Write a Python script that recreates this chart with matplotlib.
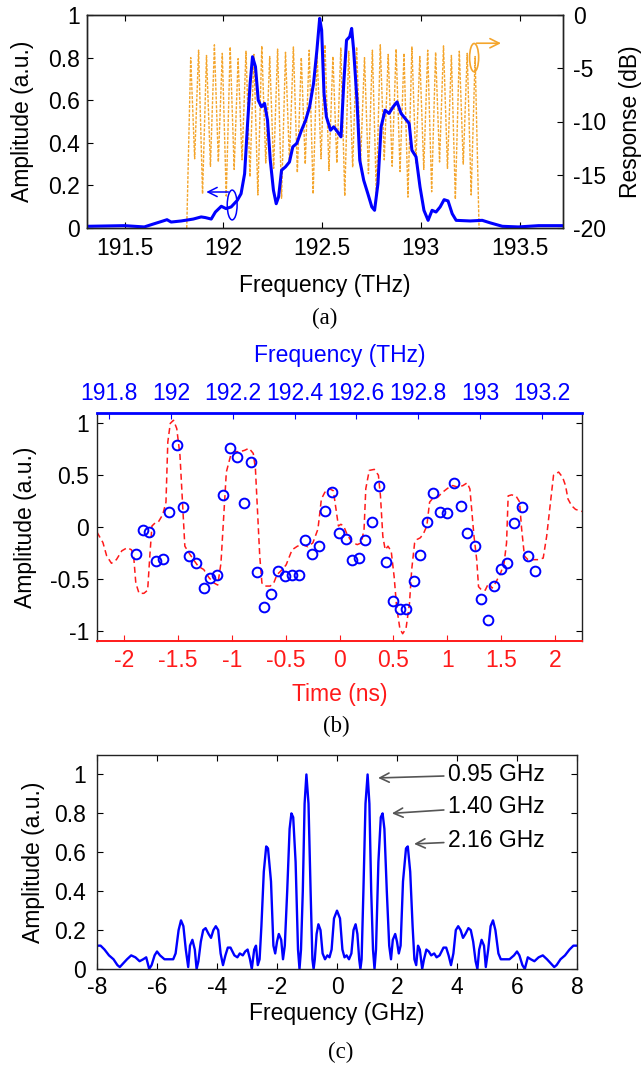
import matplotlib
matplotlib.use("Agg")
import matplotlib.pyplot as plt
from matplotlib.patches import Ellipse

plt.rcParams['font.family'] = ['Liberation Sans', 'DejaVu Sans']
plt.rcParams['font.size'] = 16.5
plt.rcParams['xtick.direction'] = 'in'
plt.rcParams['ytick.direction'] = 'in'
plt.rcParams['xtick.major.size'] = 4
plt.rcParams['ytick.major.size'] = 4
plt.rcParams['axes.linewidth'] = 1.0
plt.rcParams['axes.edgecolor'] = '#222222'

# ---- (a) optical spectrum + filter response ----
spec_f = [191.31, 191.50, 191.60, 191.64, 191.695, 191.715, 191.736, 191.787, 191.848,
          191.888, 191.909, 191.939, 191.96, 191.99, 192.014, 192.04, 192.071, 192.09,
          192.108, 192.122, 192.136, 192.148, 192.163, 192.177, 192.193, 192.209,
          192.224, 192.238, 192.254, 192.268, 192.28, 192.295, 192.315, 192.335,
          192.352, 192.372, 192.396, 192.417, 192.437, 192.457, 192.474, 192.488,
          192.498, 192.51, 192.522, 192.543, 192.559, 192.579, 192.596, 192.61,
          192.624, 192.64, 192.65, 192.66, 192.677, 192.691, 192.711, 192.732,
          192.752, 192.766, 192.783, 192.799, 192.819, 192.839, 192.86, 192.88,
          192.9, 192.921, 192.941, 192.955, 192.976, 192.996, 193.016, 193.037,
          193.057, 193.077, 193.098, 193.118, 193.138, 193.159, 193.179, 193.25,
          193.311, 193.352, 193.413, 193.494, 193.596, 193.72]
spec_amp = [0.008, 0.011, 0.005, 0.017, 0.033, 0.039, 0.028, 0.033, 0.042,
            0.052, 0.049, 0.042, 0.075, 0.102, 0.091, 0.099, 0.13, 0.161,
            0.255, 0.475, 0.679, 0.804, 0.757, 0.6, 0.569, 0.585,
            0.506, 0.318, 0.177, 0.114, 0.146, 0.271, 0.287, 0.31,
            0.381, 0.397, 0.459, 0.506, 0.569, 0.679, 0.835, 0.984,
            0.929, 0.632, 0.522, 0.459, 0.475, 0.451, 0.428, 0.679,
            0.882, 0.898, 0.937, 0.835, 0.6, 0.318, 0.224, 0.161,
            0.099, 0.083, 0.208, 0.475, 0.553, 0.538, 0.569, 0.592,
            0.538, 0.514, 0.491, 0.365, 0.334, 0.193, 0.083, 0.036,
            0.083, 0.075, 0.099, 0.133, 0.127, 0.067, 0.036, 0.033,
            0.036, 0.024, 0.008, 0.005, 0.011, 0.011]

comb_peak_f = [191.835, 191.875, 191.915, 191.955, 191.995, 192.035, 192.075, 192.115,
               192.155, 192.195, 192.235, 192.275, 192.315, 192.355, 192.395, 192.435,
               192.475, 192.515, 192.555, 192.595, 192.635, 192.675, 192.715, 192.755,
               192.795, 192.835, 192.875, 192.915, 192.955, 192.995, 193.035, 193.075,
               193.115, 193.155, 193.195, 193.235, 193.275]
comb_peak_db = [-4.0, -3.3, -3.8, -2.8, -3.6, -3.0, -4.1, -3.4, -3.7, -2.9, -3.9, -3.2,
                -3.5, -3.0, -4.0, -3.3, -3.6, -2.8, -3.9, -3.1, -3.4, -3.0, -4.0, -3.3,
                -2.8, -3.7, -3.2, -3.6, -3.0, -3.9, -3.3, -3.5, -2.9, -3.8, -3.4, -3.6,
                -3.9]
comb_dip_f = [191.855, 191.895, 191.935, 191.975, 192.015, 192.055, 192.095, 192.135,
              192.175, 192.215, 192.255, 192.295, 192.335, 192.375, 192.415, 192.455,
              192.495, 192.535, 192.575, 192.615, 192.655, 192.695, 192.735, 192.775,
              192.815, 192.855, 192.895, 192.935, 192.975, 193.015, 193.055, 193.095,
              193.135, 193.175, 193.215, 193.255]
comb_dip_db = [-13.5, -16.8, -14.2, -13.8, -17.0, -14.5, -13.6, -15.2, -16.9, -13.9, -14.4,
               -17.2, -13.7, -14.8, -14.0, -16.8, -13.5, -14.6, -13.9, -17.0, -14.3, -13.8,
               -14.9, -16.9, -13.6, -14.2, -14.7, -17.1, -13.9, -14.5, -16.6, -13.8, -14.4,
               -17.3, -14.0, -16.9]

# ---- (b) recovered waveform (time) and sampled points ----
wave_t = [-2.25, -2.195, -2.16, -2.116, -2.07, -2.02, -1.97, -1.93, -1.91, -1.89, -1.86,
          -1.815, -1.78, -1.76, -1.74, -1.71, -1.68, -1.64, -1.61, -1.593, -1.57, -1.54,
          -1.51, -1.48, -1.455, -1.435, -1.40, -1.355, -1.31, -1.26, -1.21, -1.165, -1.13,
          -1.10, -1.07, -1.05, -1.01, -0.975, -0.93, -0.88, -0.84, -0.80, -0.78, -0.76,
          -0.74, -0.72, -0.69, -0.643, -0.61, -0.58, -0.53, -0.495, -0.44, -0.39, -0.34,
          -0.295, -0.247, -0.2, -0.168, -0.136, -0.095, -0.057, -0.032, -0.01, 0.013,
          0.038, 0.07, 0.117, 0.165, 0.203, 0.228, 0.244, 0.276, 0.323, 0.361, 0.38,
          0.402, 0.424, 0.45, 0.48, 0.507, 0.53, 0.56, 0.586, 0.617, 0.649, 0.67, 0.697,
          0.72, 0.75, 0.78, 0.81, 0.836, 0.86, 0.91, 0.956, 1.004, 1.05, 1.1, 1.146,
          1.184, 1.21, 1.226, 1.248, 1.273, 1.29, 1.32, 1.352, 1.384, 1.416, 1.447,
          1.495, 1.527, 1.55, 1.565, 1.597, 1.637, 1.67, 1.69, 1.716, 1.748, 1.795,
          1.843, 1.89, 1.922, 1.954, 1.986, 2.033, 2.07, 2.097, 2.12, 2.154, 2.19, 2.25]
wave_amp = [-0.05, -0.15, -0.28, -0.35, -0.315, -0.23, -0.2, -0.22, -0.28, -0.54, -0.64,
            -0.64, -0.61, -0.28, 0.01, 0.04, 0.05, 0.12, 0.24, 0.82, 1.0, 1.03,
            0.95, 0.69, 0.2, -0.185, -0.245, -0.315, -0.38, -0.41, -0.49, -0.54, -0.56,
            -0.35, 0.17, 0.53, 0.69, 0.73, 0.725, 0.74, 0.76, 0.71, 0.56, 0.14,
            -0.28, -0.54, -0.57, -0.57, -0.54, -0.46, -0.41, -0.365, -0.22, -0.185, -0.17,
            -0.19, -0.153, -0.02, 0.27, 0.335, 0.37, 0.35, 0.17, 0.01, 0.026,
            0.01, -0.07, -0.15, -0.17, -0.153, -0.02, 0.37, 0.546, 0.556, 0.5, 0.3,
            -0.09, -0.22, -0.185, -0.235, -0.48, -0.77, -0.98, -1.03, -0.98, -0.74, -0.41, -0.153,
            -0.12, -0.104, -0.062, 0.01, 0.24, 0.27, 0.286, 0.335, 0.374, 0.4, 0.384, 0.4,
            0.426, 0.367, 0.17, -0.09, -0.315, -0.576, -0.61, -0.61, -0.54, -0.59, -0.54,
            -0.445, -0.35, -0.153, 0.3, 0.31, 0.3, 0.244, -0.02, -0.28, -0.315, -0.315,
            -0.315, -0.3, -0.09, 0.205, 0.5, 0.53, 0.48, 0.4, 0.27, 0.205, 0.17, 0.15]

samp_t = [-1.884, -1.824, -1.767, -1.704, -1.64, -1.583, -1.508, -1.45, -1.394, -1.33,
          -1.26, -1.203, -1.134, -1.08, -1.013, -0.953, -0.887, -0.823, -0.763, -0.703,
          -0.633, -0.57, -0.507, -0.443, -0.38, -0.317, -0.257, -0.19, -0.133, -0.07,
          -0.006, 0.057, 0.12, 0.184, 0.24, 0.304, 0.364, 0.431, 0.497, 0.557,
          0.621, 0.687, 0.747, 0.811, 0.871, 0.934, 0.994, 1.061, 1.124, 1.184,
          1.254, 1.311, 1.374, 1.438, 1.501, 1.558, 1.622, 1.691, 1.748, 1.815]
samp_amp = [-0.26, -0.03, -0.05, -0.325, -0.305, 0.146, 0.793, 0.195, -0.283, -0.348,
            -0.585, -0.49, -0.462, 0.312, 0.764, 0.68, 0.231, 0.624, -0.436, -0.771,
            -0.644, -0.42, -0.468, -0.459, -0.459, -0.13, -0.26, -0.179, 0.156, 0.338,
            -0.062, -0.12, -0.319, -0.3, -0.127, 0.052, 0.4, -0.338, -0.712, -0.793,
            -0.793, -0.517, -0.273, 0.052, 0.332, 0.146, 0.137, 0.429, 0.205, -0.062,
            -0.179, -0.699, -0.9, -0.566, -0.407, -0.351, 0.042, 0.195, -0.283, -0.42]

# ---- (c) RF spectrum ----
rf_f = [-8.00, -7.88, -7.75, -7.60, -7.45, -7.32, -7.24, -7.12, -7.00, -6.86, -6.72,
        -6.58, -6.46, -6.36, -6.26, -6.18, -6.08, -6.00, -5.90, -5.75, -5.60, -5.46,
        -5.38, -5.28, -5.20, -5.12, -5.04, -4.96, -4.90, -4.82, -4.74, -4.68, -4.62,
        -4.54, -4.46, -4.38, -4.28, -4.20, -4.12, -4.04, -3.96, -3.88, -3.80, -3.72,
        -3.64, -3.55, -3.42, -3.32, -3.24, -3.14, -3.06, -2.98, -2.90, -2.84, -2.76,
        -2.70, -2.64, -2.58, -2.52, -2.44, -2.36, -2.30, -2.20, -2.12, -2.06, -2.00,
        -1.94, -1.86, -1.80, -1.74, -1.66, -1.58, -1.52, -1.46, -1.38, -1.30, -1.25,
        -1.20, -1.14, -1.08, -1.02, -0.95, -0.88, -0.82, -0.78, -0.74, -0.68, -0.62,
        -0.55, -0.48, -0.40, -0.32, -0.25, -0.18, -0.10,
        0.00, 0.10, 0.18, 0.25, 0.32, 0.40, 0.48, 0.55, 0.62, 0.68, 0.74, 0.78, 0.82,
        0.88, 0.95, 1.02, 1.08, 1.14, 1.20, 1.25, 1.30, 1.38, 1.46, 1.52, 1.58, 1.66,
        1.74, 1.80, 1.86, 1.94, 2.00, 2.06, 2.12, 2.20, 2.30, 2.36, 2.44, 2.52, 2.58,
        2.64, 2.70, 2.76, 2.84, 2.90, 2.98, 3.06, 3.14, 3.24, 3.32, 3.42, 3.55, 3.64,
        3.72, 3.80, 3.88, 3.96, 4.04, 4.12, 4.20, 4.28, 4.38, 4.46, 4.54, 4.62, 4.68,
        4.74, 4.82, 4.90, 4.96, 5.04, 5.12, 5.20, 5.28, 5.38, 5.46, 5.60, 5.75, 5.90,
        6.00, 6.08, 6.18, 6.26, 6.36, 6.46, 6.58, 6.72, 6.86, 7.00, 7.12, 7.24, 7.32,
        7.45, 7.60, 7.75, 7.88, 8.00]
rf_amp = [0.12, 0.12, 0.10, 0.07, 0.05, 0.02, 0.01, 0.03, 0.05, 0.07, 0.06,
          0.04, 0.05, 0.06, 0.0, 0.02, 0.07, 0.09, 0.07, 0.05, 0.05, 0.05,
          0.08, 0.20, 0.25, 0.22, 0.10, 0.01, 0.12, 0.15, 0.10, 0.0, 0.04,
          0.14, 0.20, 0.21, 0.18, 0.16, 0.20, 0.22, 0.20, 0.08, 0.02, 0.07,
          0.11, 0.11, 0.07, 0.06, 0.08, 0.07, 0.09, 0.10, 0.05, 0.0, 0.10,
          0.12, 0.02, 0.05, 0.22, 0.50, 0.63, 0.62, 0.45, 0.12, 0.08, 0.14,
          0.18, 0.15, 0.05, 0.12, 0.40, 0.72, 0.80, 0.78, 0.55, 0.10, 0.0,
          0.10, 0.40, 0.85, 1.00, 0.85, 0.40, 0.05, 0.0, 0.05, 0.18, 0.23,
          0.20, 0.08, 0.05, 0.07, 0.06, 0.10, 0.26,
          0.30, 0.26, 0.10, 0.06, 0.07, 0.05, 0.08, 0.20, 0.23, 0.18, 0.05, 0.0, 0.05,
          0.40, 0.85, 1.00, 0.85, 0.40, 0.10, 0.0, 0.10, 0.55, 0.78, 0.80, 0.72, 0.40,
          0.12, 0.05, 0.15, 0.18, 0.14, 0.08, 0.12, 0.45, 0.62, 0.63, 0.50, 0.22, 0.05,
          0.02, 0.12, 0.10, 0.0, 0.05, 0.10, 0.09, 0.07, 0.08, 0.06, 0.07, 0.11, 0.11,
          0.07, 0.02, 0.08, 0.20, 0.22, 0.20, 0.16, 0.18, 0.21, 0.20, 0.14, 0.04, 0.0,
          0.10, 0.15, 0.12, 0.01, 0.10, 0.22, 0.25, 0.20, 0.08, 0.05, 0.05, 0.05, 0.07,
          0.09, 0.07, 0.02, 0.0, 0.06, 0.05, 0.04, 0.06, 0.07, 0.05, 0.03, 0.01, 0.02,
          0.05, 0.07, 0.10, 0.12, 0.12]

rf_marks = ['0.95 GHz', '1.40 GHz', '2.16 GHz']
rf_mark_xy = [(1.37, 0.982), (1.83, 0.80), (2.57, 0.643)]
rf_text_xy = [(3.7, 1.0), (3.7, 0.835), (3.7, 0.662)]

BLUE = '#0000ff'
RED = '#ff1a1a'
ORANGE = '#f4a52c'
serif = ['Liberation Serif', 'DejaVu Serif']

fig = plt.figure(figsize=(6.41, 10.72), dpi=100)
W, H = 641.0, 1072.0

# panel (a)
ax_a = fig.add_axes([87 / W, 1 - 228 / H, 476 / W, 213 / H])
ax_a2 = ax_a.twinx()

comb_f = [191.815]
comb_db = [-20.0]
for i in range(len(comb_peak_f)):
    comb_f.append(comb_peak_f[i])
    comb_db.append(comb_peak_db[i])
    if i < len(comb_dip_f):
        comb_f.append(comb_dip_f[i])
        comb_db.append(comb_dip_db[i])
comb_f.append(193.295)
comb_db.append(-20.0)

ax_a2.plot(comb_f, comb_db, color=ORANGE, lw=1.0, dashes=(2.2, 1.0))
ax_a2.set_ylim(-20, 0)
ax_a2.set_yticks([0, -5, -10, -15, -20])
ax_a2.set_yticklabels(['0', '-5', '-10', '-15', '-20'])
ax_a2.tick_params(axis='y', pad=7)
ax_a2.set_ylabel('Response (dB)', labelpad=9.5)
ax_a2.add_patch(Ellipse((193.27, -4.0), 0.046, 2.65, fill=False, ec=ORANGE, lw=1.2))
ax_a2.annotate('', xy=(193.42, -2.65), xytext=(193.268, -2.65),
               arrowprops=dict(arrowstyle='->', color=ORANGE, lw=1.2))

ax_a.set_zorder(ax_a2.get_zorder() + 1)
ax_a.patch.set_visible(False)
ax_a.plot(spec_f, spec_amp, color=BLUE, lw=2.2)
ax_a.add_patch(Ellipse((192.045, 0.108), 0.05, 0.14, fill=False, ec=BLUE, lw=1.1))
ax_a.annotate('', xy=(191.9, 0.169), xytext=(192.04, 0.169),
              arrowprops=dict(arrowstyle='->', color=BLUE, lw=1.1))
ax_a.set_xlim(191.31, 193.72)
ax_a.set_ylim(0, 1)
ax_a.set_xticks([191.5, 192, 192.5, 193, 193.5])
ax_a.set_xticklabels(['191.5', '192', '192.5', '193', '193.5'])
ax_a.set_yticks([0, 0.2, 0.4, 0.6, 0.8, 1])
ax_a.set_yticklabels(['0', '0.2', '0.4', '0.6', '0.8', '1'])
ax_a.tick_params(top=True)
ax_a.tick_params(axis='x', pad=6.5)
ax_a.tick_params(axis='y', pad=5)
ax_a.set_xlabel('Frequency (THz)', labelpad=10)
ax_a.set_ylabel('Amplitude (a.u.)', labelpad=10.5)
fig.text(325 / W, 1 - 318 / H, '(a)', family=serif, fontsize=16.5, ha='center', va='center')

# panel (b)
ax_b = fig.add_axes([97 / W, 1 - 641 / H, 485 / W, 228 / H])
ax_b.plot(wave_t, wave_amp, color=RED, lw=1.1, dashes=(4, 2.5))
ax_b.plot(samp_t, samp_amp, 'o', mfc='none', mec=BLUE, mew=1.4, ms=7)
ax_b.set_xlim(-2.25, 2.25)
ax_b.set_ylim(-1.1, 1.1)
ax_b.set_xticks([-2, -1.5, -1, -0.5, 0, 0.5, 1, 1.5, 2])
ax_b.set_xticklabels(['-2', '-1.5', '-1', '-0.5', '0', '0.5', '1', '1.5', '2'], color=RED)
ax_b.set_yticks([-1, -0.5, 0, 0.5, 1])
ax_b.set_yticklabels(['-1', '-0.5', '0', '0.5', '1'])
ax_b.tick_params(axis='x', colors=RED, pad=6)
ax_b.tick_params(axis='y', right=True, pad=5.5)
ax_b.spines['bottom'].set_color(RED)
ax_b.spines['bottom'].set_linewidth(1.4)
ax_b.spines['top'].set_visible(False)
ax_b.set_xlabel('Time (ns)', color=RED, labelpad=8)
ax_b.set_ylabel('Amplitude (a.u.)', labelpad=9.5)

ax_bt = ax_b.twiny()
ax_bt.set_xlim(191.761, 193.33)
ax_bt.set_xticks([191.8, 192, 192.2, 192.4, 192.6, 192.8, 193, 193.2])
ax_bt.set_xticklabels(['191.8', '192', '192.2', '192.4', '192.6', '192.8', '193', '193.2'])
ax_bt.tick_params(axis='x', colors=BLUE, pad=6)
ax_bt.spines['top'].set_color(BLUE)
ax_bt.spines['top'].set_linewidth(2.0)
for s in ['bottom', 'left', 'right']:
    ax_bt.spines[s].set_visible(False)
ax_bt.set_xlabel('Frequency (THz)', color=BLUE, labelpad=14)
fig.text(336 / W, 1 - 726 / H, '(b)', family=serif, fontsize=16.5, ha='center', va='center')

# panel (c)
ax_c = fig.add_axes([97 / W, 1 - 969 / H, 480 / W, 214 / H])
ax_c.plot(rf_f, rf_amp, color=BLUE, lw=1.7)
ax_c.set_xlim(-8, 8)
ax_c.set_ylim(0, 1.1)
ax_c.set_xticks([-8, -6, -4, -2, 0, 2, 4, 6, 8])
ax_c.set_xticklabels(['-8', '-6', '-4', '-2', '0', '2', '4', '6', '8'])
ax_c.set_yticks([0, 0.2, 0.4, 0.6, 0.8, 1])
ax_c.set_yticklabels(['0', '0.2', '0.4', '0.6', '0.8', '1'])
ax_c.tick_params(top=True, right=True)
ax_c.tick_params(axis='x', pad=5)
ax_c.tick_params(axis='y', pad=7.7)
ax_c.set_xlabel('Frequency (GHz)', labelpad=2)
ax_c.set_ylabel('Amplitude (a.u.)', labelpad=6.8)
for lab, xy, txy in zip(rf_marks, rf_mark_xy, rf_text_xy):
    ax_c.annotate(lab, xy=xy, xytext=txy, va='center', ha='left', fontsize=16.5,
                  arrowprops=dict(arrowstyle='->', color='#555555', lw=1.2,
                                  shrinkA=1, shrinkB=0))
fig.text(341 / W, 1 - 1052 / H, '(c)', family=serif, fontsize=16.5, ha='center', va='center')

fig.savefig('out.png', dpi=100)
